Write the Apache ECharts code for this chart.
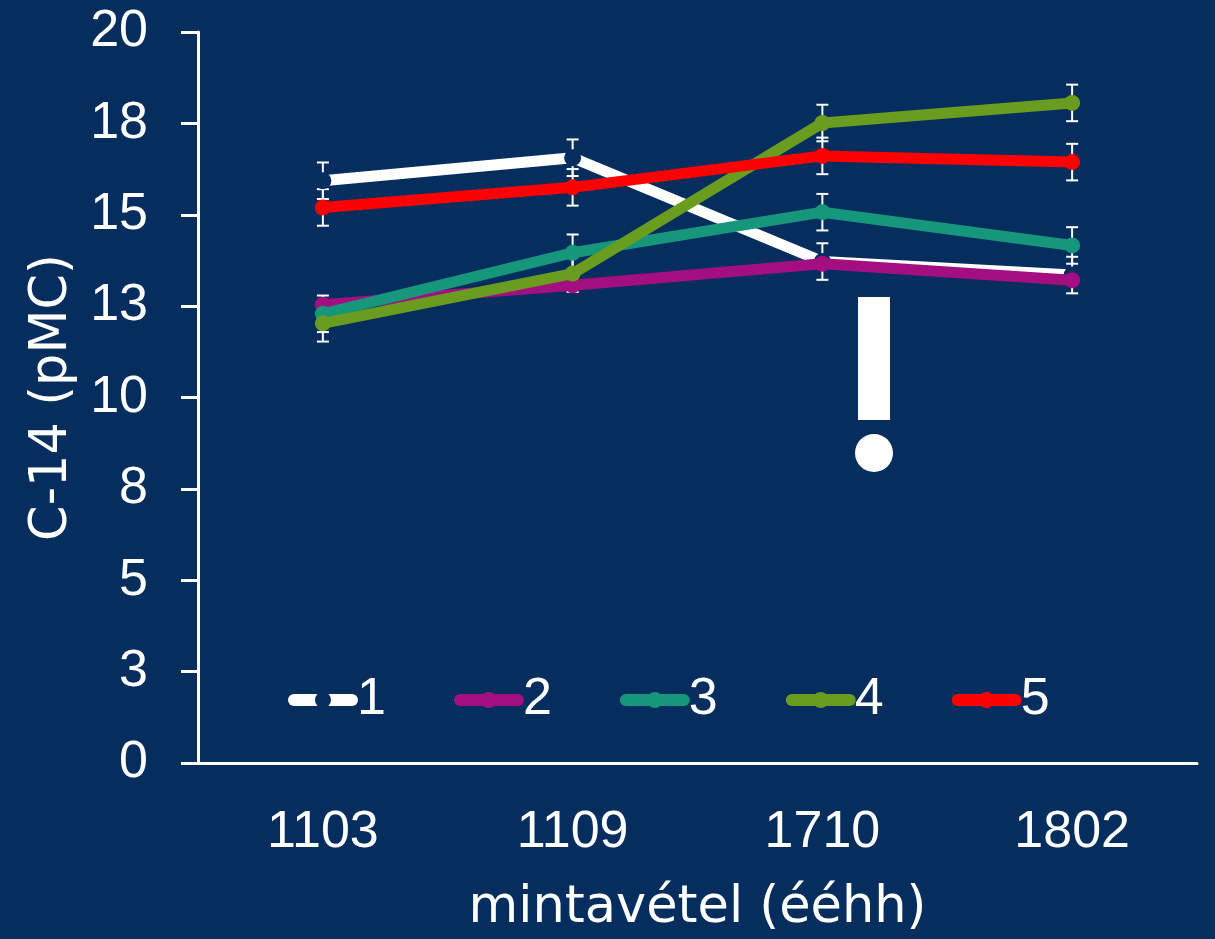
<!DOCTYPE html>
<html>
<head>
<meta charset="utf-8">
<script src="https://cdn.jsdelivr.net/npm/echarts@6/dist/echarts.min.js"></script>
<style>
  html, body { margin: 0; padding: 0; background: #052d5e; }
  #chart { width: 1215px; height: 939px; }
</style>
</head>
<body>
<div id="chart"></div>
<script>
// ---- data ----
const categories = ['1103', '1109', '1710', '1802'];
const seriesNames = ['1', '2', '3', '4', '5'];
const s1 = [15.93, 16.56, 13.72, 13.35];
const s2 = [12.54, 13.07, 13.66, 13.21];
const s3 = [12.29, 13.96, 15.07, 14.16];
const s4 = [12.03, 13.39, 17.51, 18.06];
const s5 = [15.20, 15.75, 16.61, 16.44];
// error half-widths (series 2 has no error bars in the reference)
const e1 = [0.5, 0.5, 0.5, 0.5];
const e2 = [null, null, null, null];
const e3 = [0.5, 0.5, 0.5, 0.5];
const e4 = [0.5, 0.5, 0.5, 0.5];
const e5 = [0.5, 0.5, 0.5, 0.5];
const yTickLabels = ['0', '3', '5', '8', '10', '13', '15', '18', '20'];

const values = [s1, s2, s3, s4, s5];
const errors = [e1, e2, e3, e4, e5];
const colors = ['#ffffff', '#a30f80', '#16967b', '#6a9d1f', '#ff0000'];
const BG = '#052d5e';
const FONT = 'Liberation Sans';
const NAMEFONT = 'DejaVu Sans';

const chart = echarts.init(document.getElementById('chart'), null, { renderer: 'canvas' });

const errData = [];
values.forEach((vals, si) => {
  vals.forEach((v, i) => {
    const e = errors[si][i];
    if (e != null) errData.push([i, v, e]);
  });
});

const lineSeries = values.map((vals, si) => ({
  name: seriesNames[si],
  type: 'line',
  data: vals,
  z: 3 + si,
  symbol: 'circle',
  symbolSize: si === 0 ? 17 : 16,
  showSymbol: true,
  lineStyle: { color: colors[si], width: 11, cap: 'round' },
  itemStyle: { color: si === 0 ? BG : colors[si], borderWidth: 0 },
  emphasis: { disabled: true },
  animation: false
}));

const errSeries = {
  type: 'custom',
  z: 2,
  silent: true,
  animation: false,
  data: errData,
  encode: { x: 0, y: 1 },
  renderItem: function (params, api) {
    const x = api.value(0), y = api.value(1), e = api.value(2);
    const top = api.coord([x, y + e]);
    const bot = api.coord([x, y - e]);
    const hw = 6;
    const style = { stroke: '#ffffff', lineWidth: 2 };
    return {
      type: 'group',
      children: [
        { type: 'line', shape: { x1: top[0], y1: top[1], x2: bot[0], y2: bot[1] }, style: style },
        { type: 'line', shape: { x1: top[0] - hw, y1: top[1], x2: top[0] + hw, y2: top[1] }, style: style },
        { type: 'line', shape: { x1: bot[0] - hw, y1: bot[1], x2: bot[0] + hw, y2: bot[1] }, style: style }
      ]
    };
  }
};

chart.setOption({
  backgroundColor: BG,
  animation: false,
  textStyle: { fontFamily: FONT },
  grid: { left: 198, right: 18, top: 32, bottom: 167, containLabel: false },
  legend: {
    data: seriesNames,
    left: 283,
    top: 669,
    itemWidth: 58,
    itemHeight: 20,
    itemGap: 68,
    lineStyle: { width: 12, cap: 'round' },
    textStyle: { color: '#ffffff', fontSize: 52, fontFamily: FONT },
    selectedMode: false
  },
  xAxis: {
    type: 'category',
    data: categories,
    boundaryGap: true,
    axisLine: { show: true, lineStyle: { color: '#ffffff', width: 3 } },
    axisTick: { show: false },
    axisLabel: { color: '#ffffff', fontSize: 52, fontFamily: FONT, margin: 44 },
    name: 'mintavétel (ééhh)',
    nameLocation: 'middle',
    nameGap: 120,
    nameTextStyle: { color: '#ffffff', fontSize: 51, fontFamily: NAMEFONT },
    splitLine: { show: false }
  },
  yAxis: {
    type: 'value',
    min: 0,
    max: 20,
    interval: 2.5,
    axisLine: { show: true, lineStyle: { color: '#ffffff', width: 3 } },
    axisTick: { show: true, length: 17, lineStyle: { color: '#ffffff', width: 3 } },
    axisLabel: {
      color: '#ffffff', fontSize: 52, fontFamily: FONT, margin: 50,
      formatter: function (v) { return yTickLabels[Math.round(v / 2.5)]; }
    },
    name: 'C-14 (pMC)',
    nameLocation: 'middle',
    nameRotate: 90,
    nameGap: 120,
    nameTextStyle: { color: '#ffffff', fontSize: 51, fontFamily: NAMEFONT },
    splitLine: { show: false }
  },
  graphic: [
    { type: 'rect', shape: { x: 858, y: 297, width: 32, height: 123 }, style: { fill: '#ffffff' }, z: 100 },
    { type: 'circle', shape: { cx: 874, cy: 453, r: 19 }, style: { fill: '#ffffff' }, z: 100 }
  ],
  series: [errSeries].concat(lineSeries)
});
</script>
</body>
</html>
